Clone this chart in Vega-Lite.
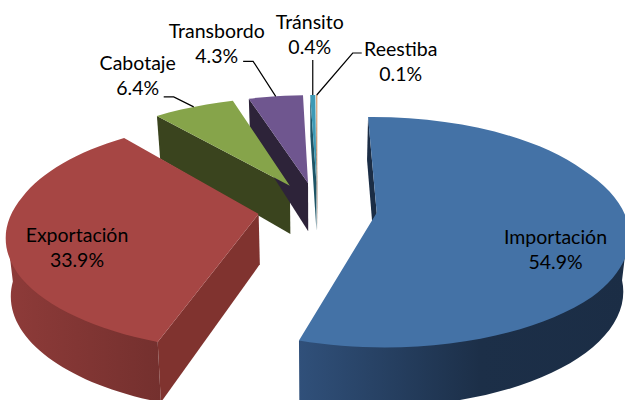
{
"$schema":"https://vega.github.io/schema/vega-lite/v6.json",
"width":625,"height":400,"padding":0,"autosize":{"type":"none"},
"background":"white",
"config":{"view":{"stroke":null}},
"resolve":{"scale":{"color":"independent"}},
"params":[
{"name":"focal","value":245},{"name":"focalY","value":110.7},{"name":"persp","value":0.17},{"name":"explode","value":0.243},{"name":"depth","value":50},{"name":"cenX","value":5},{"name":"cenY","value":8.6},{"name":"shrink","value":0.98}
],
"data":{"values":[
{"Category":"Importación","share":54.9},
{"Category":"Exportación","share":33.9},
{"Category":"Cabotaje","share":6.4},
{"Category":"Transbordo","share":4.3},
{"Category":"Tránsito","share":0.4},
{"Category":"Reestiba","share":0.1}
]},
"transform":[
{"window":[{"op":"sum","field":"share","as":"s1"}],"sort":[{"field":"share","order":"descending"}],"frame":[null,0]},
{"calculate":"(datum.s1-datum.share)*2*PI/100","as":"t0"},
{"calculate":"datum.s1*2*PI/100","as":"t1"},
{"calculate":"(datum.t0+datum.t1)/2","as":"m"},
{"calculate":"explode*sin(datum.m)","as":"ea"},
{"calculate":"explode*cos(datum.m)","as":"eb"},
{"calculate":"1+persp*datum.eb","as":"wc"},
{"calculate":"persp/datum.wc","as":"pp"},
{"calculate":"round(focal/datum.wc/sqrt(1-datum.pp*datum.pp)*100)/100","as":"rx"},
{"calculate":"round(focalY/datum.wc/(1-datum.pp*datum.pp)*100)/100","as":"ry"},
{"calculate":"round(datum.rx*shrink*100)/100","as":"rxb"},
{"calculate":"round((cenX+focal*datum.ea/datum.wc)*100)/100","as":"ax"},
{"calculate":"round((cenY-focalY*datum.eb/datum.wc)*100)/100","as":"ay"},
{"calculate":"round((cenX+(datum.ax-cenX)*shrink)*100)/100","as":"axb"},
{"calculate":"round((datum.ay+depth/datum.wc)*100)/100","as":"ayb"},
{"calculate":"1+persp*(datum.eb+cos(datum.t0))","as":"w0"},
{"calculate":"round((cenX+focal*(datum.ea+sin(datum.t0))/datum.w0)*100)/100","as":"x0"},
{"calculate":"round((cenY-focalY*(datum.eb+cos(datum.t0))/datum.w0)*100)/100","as":"y0"},
{"calculate":"round((cenX+(datum.x0-cenX)*shrink)*100)/100","as":"x0b"},
{"calculate":"round((datum.y0+depth/datum.w0)*100)/100","as":"y0b"},
{"calculate":"1+persp*(datum.eb+cos(datum.t1))","as":"w1"},
{"calculate":"round((cenX+focal*(datum.ea+sin(datum.t1))/datum.w1)*100)/100","as":"x1"},
{"calculate":"round((cenY-focalY*(datum.eb+cos(datum.t1))/datum.w1)*100)/100","as":"y1"},
{"calculate":"datum.t0+(datum.t1-datum.t0)/3","as":"tq1"},
{"calculate":"datum.t0+(datum.t1-datum.t0)*2/3","as":"tq2"},
{"calculate":"1+persp*(datum.eb+cos(datum.tq1))","as":"wq1"},
{"calculate":"round((cenX+focal*(datum.ea+sin(datum.tq1))/datum.wq1)*100)/100","as":"xq1"},
{"calculate":"round((cenY-focalY*(datum.eb+cos(datum.tq1))/datum.wq1)*100)/100","as":"yq1"},
{"calculate":"1+persp*(datum.eb+cos(datum.tq2))","as":"wq2"},
{"calculate":"round((cenX+focal*(datum.ea+sin(datum.tq2))/datum.wq2)*100)/100","as":"xq2"},
{"calculate":"round((cenY-focalY*(datum.eb+cos(datum.tq2))/datum.wq2)*100)/100","as":"yq2"},
{"calculate":"max(datum.t0,98*PI/180)","as":"ta"},
{"calculate":"min(datum.t1,262*PI/180)","as":"tb"},
{"calculate":"1+persp*(datum.eb+cos(datum.ta))","as":"wa"},
{"calculate":"round((cenX+focal*(datum.ea+sin(datum.ta))/datum.wa)*100)/100","as":"xa"},
{"calculate":"round((cenY-focalY*(datum.eb+cos(datum.ta))/datum.wa)*100)/100","as":"ya"},
{"calculate":"round((cenX+(datum.xa-cenX)*shrink)*100)/100","as":"xab"},
{"calculate":"round((datum.ya+depth/datum.wa)*100)/100","as":"yab"},
{"calculate":"1+persp*(datum.eb+cos(datum.tb))","as":"wb"},
{"calculate":"round((cenX+focal*(datum.ea+sin(datum.tb))/datum.wb)*100)/100","as":"xb"},
{"calculate":"round((cenY-focalY*(datum.eb+cos(datum.tb))/datum.wb)*100)/100","as":"yb"},
{"calculate":"round((cenX+(datum.xb-cenX)*shrink)*100)/100","as":"xbb"},
{"calculate":"round((datum.yb+depth/datum.wb)*100)/100","as":"ybb"},
{"calculate":"'M'+datum.ax+' '+datum.ay+'L'+datum.x0+' '+datum.y0+'A'+datum.rx+' '+datum.ry+' 0 0 1 '+datum.xq1+' '+datum.yq1+'A'+datum.rx+' '+datum.ry+' 0 0 1 '+datum.xq2+' '+datum.yq2+'A'+datum.rx+' '+datum.ry+' 0 0 1 '+datum.x1+' '+datum.y1+'Z'","as":"topPath"},
{"calculate":"'M'+datum.ax+' '+datum.ay+'L'+datum.x0+' '+datum.y0+'L'+datum.x0b+' '+datum.y0b+'L'+datum.axb+' '+datum.ayb+'Z'","as":"facePath"},
{"calculate":"'M'+datum.xa+' '+datum.ya+'L'+datum.xb+' '+datum.yb+'L'+datum.xbb+' '+datum.ybb+'A'+datum.rxb+' '+datum.ry+' 0 0 0 '+datum.xab+' '+datum.yab+'Z'","as":"wallPath"},
{"calculate":"1+persp*(datum.eb+cos(datum.m))","as":"wm"},
{"calculate":"cenX+focal*(datum.ea+sin(datum.m))/datum.wm","as":"ox"},
{"calculate":"cenY-focalY*(datum.eb+cos(datum.m))/datum.wm","as":"oy"},
{"calculate":"{'Importación':[-73,8],'Exportación':[71,-1],'Cabotaje':[-56,-42.5],'Transbordo':[-59,-64.8],'Tránsito':[-3,-72.5],'Reestiba':[84,-45.5]}[datum.Category]","as":"lo"},
{"calculate":"312.5+datum.ox+datum.lo[0]","as":"lx"},
{"calculate":"200+datum.oy+datum.lo[1]","as":"ly"},
{"calculate":"datum.Category+'\\n'+format(datum.share,'.1f')+'%'","as":"label"},
{"calculate":"{'Cabotaje':[-20,-10,-30,-10],'Transbordo':[-22.6,-35,-32.6,-35],'Tránsito':[0,-35,0,-35],'Reestiba':[36,-42,45,-42]}[datum.Category]","as":"lead"},
{"calculate":"datum.lead?'M'+round(datum.ox*100)/100+' '+round(datum.oy*100)/100+'L'+round((datum.ox+datum.lead[0])*100)/100+' '+round((datum.oy+datum.lead[1])*100)/100+'L'+round((datum.ox+datum.lead[2])*100)/100+' '+round((datum.oy+datum.lead[3])*100)/100:'M0 0'","as":"leadPath"}
],
"layer":[
{"mark":{"type":"point","filled":true,"opacity":1,"size":4},
 "encoding":{"shape":{"field":"facePath","type":"nominal","scale":null,"legend":null},
 "color":{"field":"Category","type":"nominal","legend":null,"scale":{"domain":["Importación","Exportación","Cabotaje","Transbordo","Tránsito","Reestiba"],"range":["#1b2d45","#80332F","#3A441E","#2D2339","#1F5566","#7a5030"]}}}},
{"transform":[{"filter":"datum.Category==='Importación'"}],
 "mark":{"type":"point","filled":true,"opacity":1,"size":4,"fill":{"gradient":"linear","x1":0,"x2":1,"y1":0,"y2":0,"stops":[{"offset":0,"color":"#30507A"},{"offset":0.55,"color":"#1C2F48"},{"offset":1,"color":"#1B2D45"}]}},
 "encoding":{"shape":{"field":"wallPath","type":"nominal","scale":null,"legend":null}}},
{"transform":[{"filter":"datum.Category==='Exportación'"}],
 "mark":{"type":"point","filled":true,"opacity":1,"size":4,"fill":{"gradient":"linear","x1":0,"x2":1,"y1":0,"y2":0,"stops":[{"offset":0,"color":"#8E3B39"},{"offset":1,"color":"#74302E"}]}},
 "encoding":{"shape":{"field":"wallPath","type":"nominal","scale":null,"legend":null}}},
{"mark":{"type":"point","filled":true,"opacity":1,"size":4},
 "encoding":{"shape":{"field":"topPath","type":"nominal","scale":null,"legend":null},
 "color":{"field":"Category","type":"nominal","legend":null,"scale":{"domain":["Importación","Exportación","Cabotaje","Transbordo","Tránsito","Reestiba"],"range":["#4472A6","#A64644","#86A44A","#6F568F","#3E9AB5","#D39A6C"]}}}},
{"transform":[{"filter":"datum.lead"}],
 "mark":{"type":"point","filled":false,"fill":"transparent","opacity":1,"size":4,"stroke":"#000000","strokeWidth":1.2},
 "encoding":{"shape":{"field":"leadPath","type":"nominal","scale":null,"legend":null}}},
{"mark":{"type":"text","font":"Lato","fontSize":19.5,"lineBreak":"\n","lineHeight":25,"align":"center","baseline":"middle","color":"#000000"},
 "encoding":{"x":{"field":"lx","type":"quantitative","scale":null,"axis":null},
 "y":{"field":"ly","type":"quantitative","scale":null,"axis":null},
 "text":{"field":"label","type":"nominal"}}}
]
}
